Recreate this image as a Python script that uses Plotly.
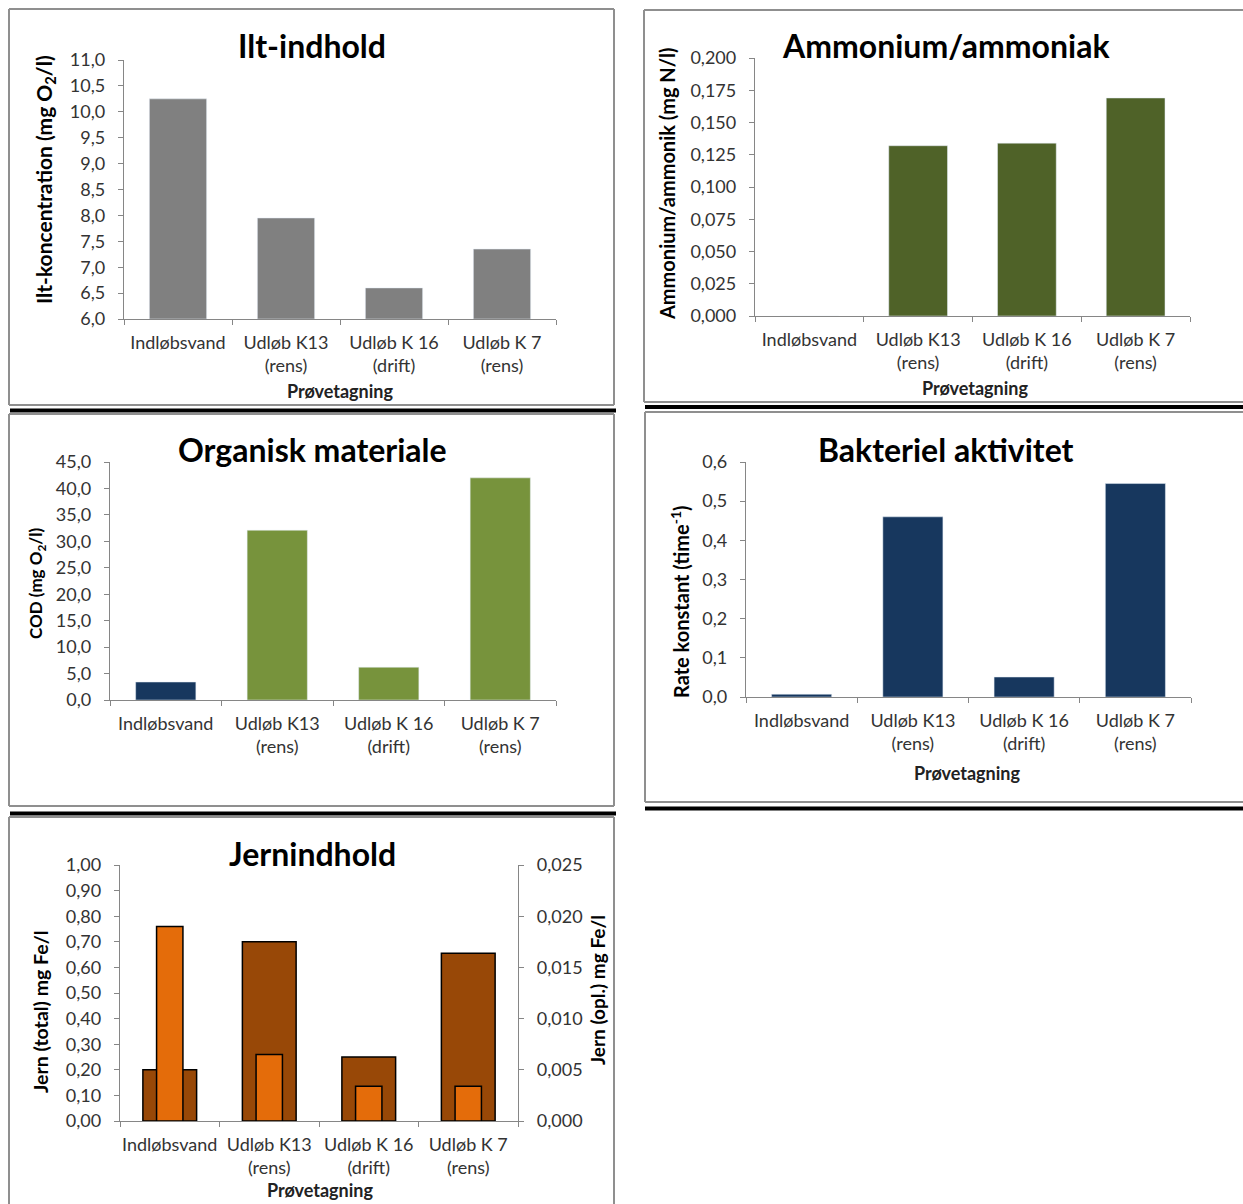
import plotly.graph_objects as go

W, H = 1243, 1204

# Sampling points shared by all five charts
categories = ["Indløbsvand", "Udløb K13<br>(rens)", "Udløb K 16<br>(drift)", "Udløb K 7<br>(rens)"]

# Oxygen content (mg O2/l)
ilt_values = [10.25, 7.95, 6.6, 7.35]
ilt_baseline = 6.0

# Ammonium/ammonia (mg N/l)
ammonium_values = [-0.0012, 0.132, 0.134, 0.169]

# COD (mg O2/l)
cod_values = [3.4, 32.1, 6.2, 42.0]

# Bacterial rate constant (1/hour)
rate_values = [0.007, 0.46, 0.051, 0.545]

# Iron, total and dissolved (mg Fe/l)
iron_total_values = [0.20, 0.70, 0.25, 0.655]
iron_dissolved_values = [0.019, 0.0065, 0.0034, 0.0034]

FONT = "Lato"
TICK_COLOR = "#333333"
AXIS_COLOR = "#868686"
TICK_SIZE = 18


def px(x):
    return x / W


def py(y):
    return 1 - y / H


def xd(left, right):
    return [px(left), px(right)]


def yd(top, bottom):
    return [py(bottom), py(top)]


fig = go.Figure()

# --- bars -----------------------------------------------------------------
fig.add_bar(x=categories, y=[v - ilt_baseline for v in ilt_values],
            marker_color="#808080", width=0.53, xaxis="x", yaxis="y")
fig.add_bar(x=categories, y=ammonium_values, marker_color="#4F6228", width=0.54,
            xaxis="x2", yaxis="y2", cliponaxis=False)
fig.add_bar(x=categories, y=cod_values,
            marker_color=["#17375E", "#77933C", "#77933C", "#77933C"], width=0.54,
            xaxis="x3", yaxis="y3")
fig.add_bar(x=categories, y=rate_values, marker_color="#17375E", width=0.54,
            xaxis="x4", yaxis="y4")
fig.add_bar(x=categories, y=iron_total_values, marker_color="#984807",
            marker_line=dict(color="black", width=1.5), width=0.54,
            xaxis="x5", yaxis="y5")
fig.add_bar(x=categories, y=iron_dissolved_values, marker_color="#E46C0A",
            marker_line=dict(color="black", width=1.5), width=0.265,
            xaxis="x5", yaxis="y6")


def xaxis(domain, anchor):
    return dict(domain=domain, anchor=anchor, type="category", showline=True,
                linecolor=AXIS_COLOR, linewidth=1.3, ticks="outside",
                tickson="boundaries", ticklen=5, tickcolor=AXIS_COLOR,
                ticklabelstandoff=7, tickangle=0,
                showgrid=False, zeroline=False, fixedrange=True,
                tickfont=dict(family=FONT, size=TICK_SIZE, color=TICK_COLOR))


def yaxis(domain, anchor, rng, dtick, fmt, side="left", overlaying=None):
    d = dict(domain=domain, anchor=anchor, range=rng, dtick=dtick, tickformat=fmt,
             showline=True, linecolor=AXIS_COLOR, linewidth=1.3, ticks="outside",
             ticklen=5, tickcolor=AXIS_COLOR, showgrid=False, zeroline=False,
             side=side, tick0=rng[0], ticklabelstandoff=9,
             tickfont=dict(family=FONT, size=TICK_SIZE, color=TICK_COLOR))
    if overlaying:
        d["overlaying"] = overlaying
    return d


layout = dict(
    width=W, height=H,
    # fixed zero margins: nothing may widen them
    margin=dict(l=0, r=0, t=0, b=0, autoexpand=False),
    paper_bgcolor="white", plot_bgcolor="rgba(0,0,0,0)",
    showlegend=False, separators=",.", barmode="overlay",
    font=dict(family=FONT, color=TICK_COLOR),
    xaxis=xaxis(xd(124, 556), "y"),
    yaxis=yaxis(yd(60, 319), "x", [0, 5], 0.5, ".1f"),
    xaxis2=xaxis(xd(755, 1190), "y2"),
    yaxis2=yaxis(yd(58, 316), "x2", [0, 0.2], 0.025, ".3f"),
    xaxis3=xaxis(xd(110, 556), "y3"),
    yaxis3=yaxis(yd(462, 700), "x3", [0, 45], 5, ".1f"),
    xaxis4=xaxis(xd(746, 1191), "y4"),
    yaxis4=yaxis(yd(462, 697), "x4", [0, 0.6], 0.1, ".1f"),
    xaxis5=xaxis(xd(120, 518), "y5"),
    yaxis5=yaxis(yd(865, 1121), "x5", [0, 1], 0.1, ".2f"),
    yaxis6=yaxis(yd(865, 1121), "x5", [0, 0.025], 0.005, ".3f",
                 side="right", overlaying="y5"),
)
# oxygen axis reads 6,0 .. 11,0; bars rise from the 6,0 baseline
layout["yaxis"]["tickvals"] = [i * 0.5 for i in range(11)]
layout["yaxis"]["ticktext"] = [f"{ilt_baseline + i * 0.5:.1f}".replace(".", ",") for i in range(11)]
fig.update_layout(**layout)

# --- panel frames and separators (kept inside the page) --------------------
shapes = []


def seg(x0, y0, x1, y1, color="#8f8f8f", width=2):
    shapes.append(dict(type="line", xref="paper", yref="paper",
                       x0=px(x0), x1=px(x1), y0=py(y0), y1=py(y1),
                       line=dict(color=color, width=width)))


# closed frames on the left column
for x0, y0, x1, y1 in [(9, 9, 614, 405), (9, 414, 614, 806)]:
    seg(x0, y0, x1, y0)
    seg(x0, y1, x1, y1)
    seg(x0, y0, x0, y1)
    seg(x1, y0, x1, y1)
# frames on the right column run off the right edge
for x0, y0, y1 in [(644, 10, 402), (645, 412, 802)]:
    seg(x0, y0, 1243, y0)
    seg(x0, y1, 1243, y1)
    seg(x0, y0, x0, y1)
# bottom frame runs off the lower edge
seg(9, 817, 614, 817)
seg(9, 817, 9, 1204)
seg(614, 817, 614, 1204)

for x0, x1, y in [(10, 616, 410.5), (645, 1243, 407), (10, 616, 813.5), (645, 1243, 808.5)]:
    seg(x0, y, x1, y, color="black", width=4)
fig.update_layout(shapes=shapes)

# --- titles -----------------------------------------------------------------
ann = []


def text(x, y, s, size, angle=0, color="black"):
    ann.append(dict(x=px(x), y=py(y), xref="paper", yref="paper", text=s,
                    showarrow=False, textangle=angle, xanchor="center", yanchor="middle",
                    font=dict(family=FONT, size=size, color=color)))


text(312, 46, "<b>Ilt-indhold</b>", 32)
text(946, 46, "<b>Ammonium/ammoniak</b>", 32)
text(312, 449, "<b>Organisk materiale</b>", 32)
text(946, 449, "<b>Bakteriel aktivitet</b>", 32)
text(312, 853, "<b>Jernindhold</b>", 32)

text(45, 180, "<b>Ilt-koncentration (mg O<sub>2</sub>/l)</b>", 21, -90)
text(667, 183, "<b>Ammonium/ammonik (mg N/l)</b>", 20, -90)
text(37, 583, "<b>COD (mg O<sub>2</sub>/l)</b>", 17, -90)
text(680, 602, "<b>Rate konstant (time<sup>-1</sup>)</b>", 20, -90)
text(40, 1012, "<b>Jern (total) mg Fe/l</b>", 19.5, -90)
text(597, 990, "<b>Jern (opl.) mg Fe/l</b>", 19, -90)

text(340, 391, "<b>Prøvetagning</b>", 18, color="#222")
text(975, 388, "<b>Prøvetagning</b>", 18, color="#222")
text(967, 773, "<b>Prøvetagning</b>", 18, color="#222")
text(320, 1190, "<b>Prøvetagning</b>", 18, color="#222")
fig.update_layout(annotations=ann)

fig.write_html("out.html")
